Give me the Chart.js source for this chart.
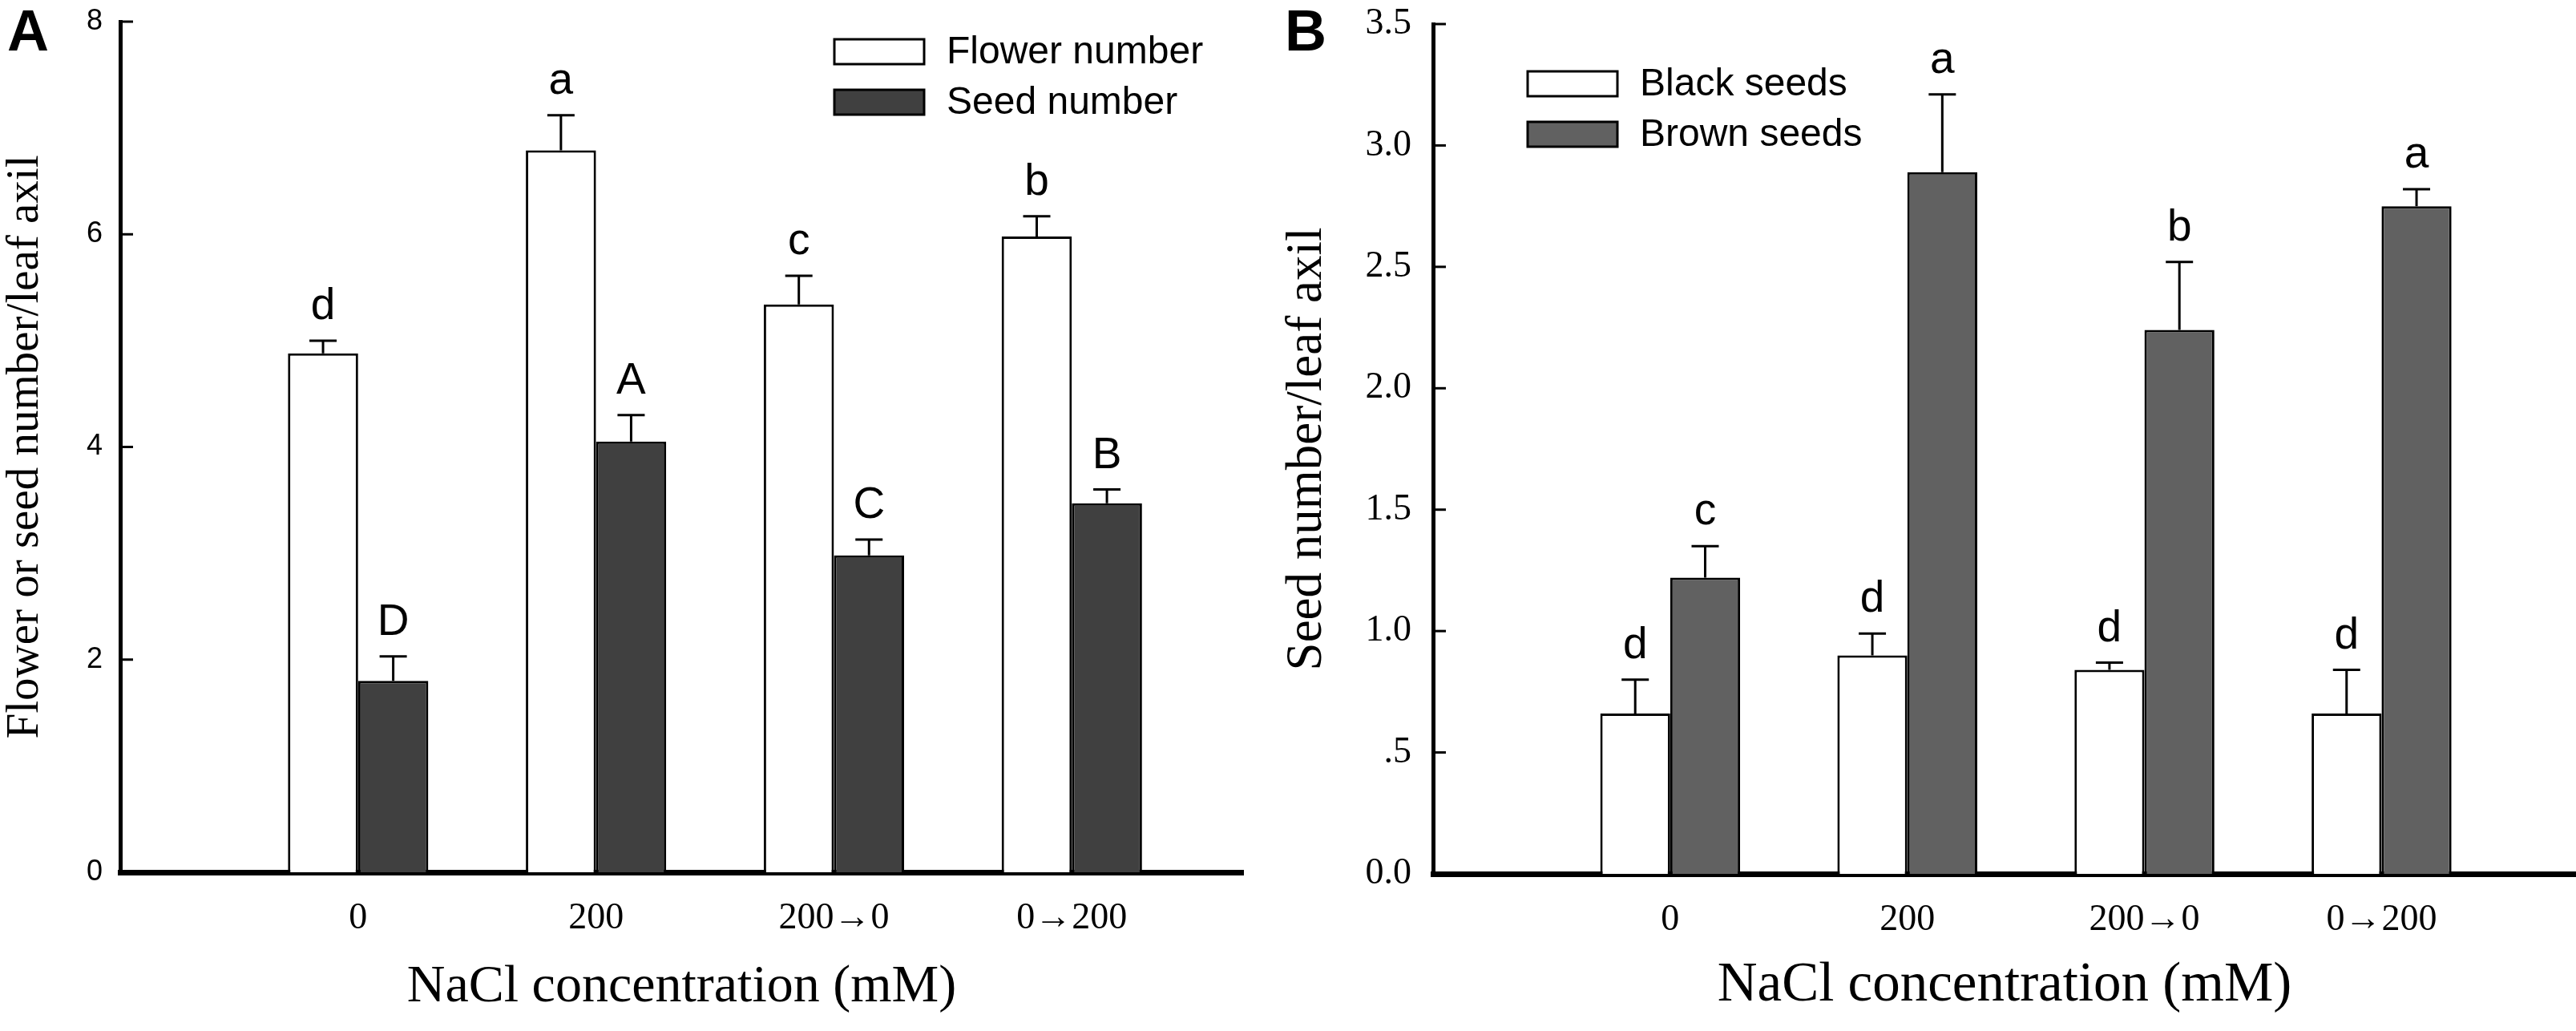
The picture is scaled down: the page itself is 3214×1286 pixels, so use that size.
<!DOCTYPE html>
<html>
<head>
<meta charset="utf-8">
<script src="https://cdn.jsdelivr.net/npm/chart.js@4.4.1/dist/chart.umd.min.js"></script>
<style>
  html, body { margin: 0; padding: 0; background: #fff; }
  #wrapA { position: absolute; left: 0; top: 0; width: 1600px; height: 1286px; }
  #wrapB { position: absolute; left: 1600px; top: 0; width: 1614px; height: 1286px; }
</style>
</head>
<body>
<div id="wrapA"><canvas id="chartA" width="1600" height="1286"></canvas></div>
<div id="wrapB"><canvas id="chartB" width="1614" height="1286"></canvas></div>
<script>
// categories shared by both panels
const categories = ["0", "200", "200\u21920", "0\u2192200"];

// panel A: flower and seed number per leaf axil
const flowerMean = [4.88, 6.79, 5.34, 5.98];
const flowerSE = [0.12, 0.33, 0.27, 0.19];
const flowerLetters = ["d", "a", "c", "b"];
const seedMean = [1.80, 4.05, 2.98, 3.47];
const seedSE = [0.23, 0.25, 0.15, 0.13];
const seedLetters = ["D", "A", "C", "B"];
const ticksA = [0, 2, 4, 6, 8];

// panel B: black and brown seeds per leaf axil
const blackMean = [0.66, 0.90, 0.84, 0.66];
const blackSE = [0.14, 0.09, 0.03, 0.18];
const blackLetters = ["d", "d", "d", "d"];
const brownMean = [1.22, 2.89, 2.24, 2.75];
const brownSE = [0.13, 0.32, 0.28, 0.07];
const brownLetters = ["c", "a", "b", "a"];
const ticksB = [0, 0.5, 1, 1.5, 2, 2.5, 3, 3.5];
const tickLabelsB = ["0.0", ".5", "1.0", "1.5", "2.0", "2.5", "3.0", "3.5"];

const SANS = '"Liberation Sans", Arial, sans-serif';
const SERIF = '"Liberation Serif", "Times New Roman", serif';

// inward y ticks, error bars, significance letters, legend and panel letter
const extrasPlugin = {
    id: "extras",
    afterDatasetsDraw(chart, args, opts) {
        const ctx = chart.ctx;
        const yScale = chart.scales.y;
        const left = chart.chartArea.left;
        ctx.save();
        ctx.strokeStyle = "#000";
        ctx.lineWidth = 3;
        yScale.ticks.forEach(t => {
            const y = yScale.getPixelForValue(t.value);
            ctx.beginPath();
            ctx.moveTo(left, y);
            ctx.lineTo(left + 16, y);
            ctx.stroke();
        });

        chart.data.datasets.forEach((ds, di) => {
            const meta = chart.getDatasetMeta(di);
            meta.data.forEach((bar, i) => {
                const top = yScale.getPixelForValue(ds.data[i].y + ds.se[i]);
                ctx.strokeStyle = "#000";
                ctx.lineWidth = 3;
                ctx.beginPath();
                ctx.moveTo(bar.x, bar.y);
                ctx.lineTo(bar.x, top);
                ctx.moveTo(bar.x - 17, top);
                ctx.lineTo(bar.x + 17, top);
                ctx.stroke();

                ctx.fillStyle = "#000";
                ctx.font = "55px " + SANS;
                ctx.textAlign = "center";
                ctx.textBaseline = "alphabetic";
                ctx.fillText(ds.letters[i], bar.x, top - 27);
            });
        });
        ctx.restore();
    },
    afterDraw(chart, args, opts) {
        const ctx = chart.ctx;
        ctx.save();
        // legend
        chart.data.datasets.forEach((ds, di) => {
            const y = opts.legendY + di * opts.legendStep;
            ctx.fillStyle = ds.backgroundColor;
            ctx.fillRect(opts.legendX, y, 112, 31);
            ctx.strokeStyle = "#000";
            ctx.lineWidth = 3;
            ctx.strokeRect(opts.legendX, y, 112, 31);
            ctx.fillStyle = "#000";
            ctx.font = "48px " + SANS;
            ctx.textAlign = "left";
            ctx.textBaseline = "middle";
            ctx.fillText(ds.label, opts.legendX + 140, y + 17);
        });
        // panel letter
        ctx.font = "bold 72px " + SANS;
        ctx.textAlign = "left";
        ctx.textBaseline = "alphabetic";
        ctx.fillText(opts.panel, opts.panelX, 63);
        ctx.restore();
    }
};

function makePanel(canvasId, p) {
    const ctx = document.getElementById(canvasId).getContext("2d");
    return new Chart(ctx, {
        type: "bar",
        data: {
            datasets: p.series.map(s => ({
                label: s.label,
                data: s.mean.map((v, i) => ({ x: i + 1, y: v })),
                se: s.se,
                letters: s.letters,
                backgroundColor: s.color,
                borderColor: "#000",
                borderWidth: 3,
                categoryPercentage: 0.59,
                barPercentage: 1.0
            }))
        },
        options: {
            responsive: false,
            devicePixelRatio: 1,
            animation: false,
            layout: { padding: { top: p.top, right: p.right, left: 0, bottom: 0 } },
            plugins: {
                legend: { display: false },
                tooltip: { enabled: false },
                extras: { panel: p.panel, panelX: p.panelX, legendX: p.legendX, legendY: p.legendY, legendStep: 63 }
            },
            scales: {
                x: {
                    type: "linear",
                    min: 0,
                    max: p.xMax,
                    offset: false,
                    afterBuildTicks: scale => {
                        scale.ticks = categories.map((c, i) => ({ value: i + 1 }));
                    },
                    afterFit: scale => {
                        scale.height = p.xHeight;
                        scale.paddingLeft = 0;
                        scale.paddingRight = 0;
                    },
                    grid: { display: false, drawTicks: false, offset: false },
                    border: { display: true, color: "#000", width: 7 },
                    ticks: {
                        autoSkip: false,
                        maxRotation: 0,
                        padding: 30,
                        color: "#000",
                        font: { family: SERIF, size: 46 },
                        callback: v => categories[Math.round(v) - 1]
                    },
                    title: {
                        display: true,
                        text: "NaCl concentration (mM)",
                        color: "#000",
                        font: { family: SERIF, size: p.xTitleSize, lineHeight: 1.2 },
                        padding: { top: 0, bottom: 15 }
                    }
                },
                y: {
                    min: 0,
                    max: p.yMax,
                    afterBuildTicks: scale => {
                        scale.ticks = p.yTicks.map(v => ({ value: v }));
                    },
                    afterFit: scale => {
                        scale.width = p.yWidth;
                        scale.paddingTop = 0;
                        scale.paddingBottom = 0;
                    },
                    grid: { display: false, drawTicks: false },
                    border: { display: true, color: "#000", width: 5 },
                    ticks: {
                        padding: p.yTickPad,
                        color: "#000",
                        font: p.yTickFont,
                        callback: p.yTickLabel
                    },
                    title: {
                        display: true,
                        text: p.yTitle,
                        color: "#000",
                        font: { family: SERIF, size: p.yTitleSize, lineHeight: 1.0 },
                        padding: { top: p.yTitlePad, bottom: 0 }
                    }
                }
            }
        },
        plugins: [extrasPlugin]
    });
}

makePanel("chartA", {
    panel: "A", panelX: 9,
    top: 27, right: 49,
    xMax: 4.72, xHeight: 198, xTitleSize: 66,
    yMax: 8, yTicks: ticksA, yWidth: 150, yTickPad: 22,
    yTickFont: { family: SANS, size: 36 },
    yTickLabel: v => String(v),
    yTitle: "Flower or seed number/leaf axil", yTitleSize: 57, yTitlePad: 4,
    legendX: 1041, legendY: 49,
    series: [
        { label: "Flower number", mean: flowerMean, se: flowerSE, letters: flowerLetters, color: "#ffffff" },
        { label: "Seed number", mean: seedMean, se: seedSE, letters: seedLetters, color: "#404040" }
    ]
});

makePanel("chartB", {
    panel: "B", panelX: 3,
    top: 30, right: 0,
    xMax: 4.82, xHeight: 196, xTitleSize: 69,
    yMax: 3.5, yTicks: ticksB, yWidth: 188, yTickPad: 27,
    yTickFont: { family: SERIF, size: 46 },
    yTickLabel: v => tickLabelsB[ticksB.indexOf(v)],
    yTitle: "Seed number/leaf axil", yTitleSize: 63, yTitlePad: 0,
    legendX: 306, legendY: 89,
    series: [
        { label: "Black seeds", mean: blackMean, se: blackSE, letters: blackLetters, color: "#ffffff" },
        { label: "Brown seeds", mean: brownMean, se: brownSE, letters: brownLetters, color: "#616161" }
    ]
});
</script>
</body>
</html>
